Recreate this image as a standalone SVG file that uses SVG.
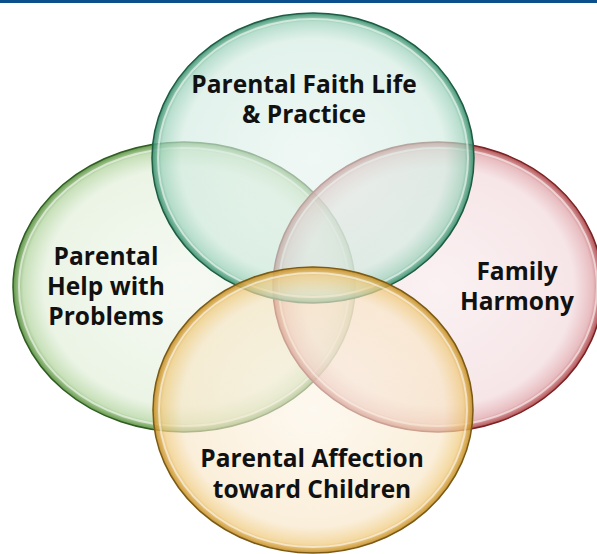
<svg xmlns="http://www.w3.org/2000/svg" width="597" height="554" viewBox="0 0 597 554">
<defs>
<radialGradient id="gTeal" cx="50%" cy="50%" r="50%">
<stop offset="0%" stop-color="#e6f3ee" stop-opacity="0.6"/>
<stop offset="82%" stop-color="#d2ebe1" stop-opacity="0.65"/>
<stop offset="94%" stop-color="#9fd3bd" stop-opacity="0.75"/>
<stop offset="100%" stop-color="#2f8a66" stop-opacity="0.9"/>
</radialGradient>
<radialGradient id="gGreen" cx="50%" cy="50%" r="50%">
<stop offset="0%" stop-color="#f0f6ec" stop-opacity="0.6"/>
<stop offset="82%" stop-color="#e0eed7" stop-opacity="0.65"/>
<stop offset="94%" stop-color="#b5d6a2" stop-opacity="0.75"/>
<stop offset="100%" stop-color="#4f8a34" stop-opacity="0.9"/>
</radialGradient>
<radialGradient id="gRed" cx="50%" cy="50%" r="50%">
<stop offset="0%" stop-color="#f7e8ea" stop-opacity="0.6"/>
<stop offset="82%" stop-color="#f2d8db" stop-opacity="0.65"/>
<stop offset="94%" stop-color="#e0a7ac" stop-opacity="0.75"/>
<stop offset="100%" stop-color="#a83a3c" stop-opacity="0.9"/>
</radialGradient>
<radialGradient id="gOrange" cx="50%" cy="50%" r="50%">
<stop offset="0%" stop-color="#fcf4e6" stop-opacity="0.6"/>
<stop offset="82%" stop-color="#f8e6c6" stop-opacity="0.65"/>
<stop offset="94%" stop-color="#f0cb80" stop-opacity="0.75"/>
<stop offset="100%" stop-color="#c48a1c" stop-opacity="0.9"/>
</radialGradient>
</defs>
<style>
.lbl{font-family:"Open Sans","Liberation Sans",sans-serif;font-weight:700;font-size:24.5px;fill:#111;text-anchor:middle}
.hl{fill:none;stroke:#ffffff;stroke-opacity:0.55;stroke-width:2}
</style>
<rect x="0" y="0" width="597" height="554" fill="#ffffff"/>
<rect x="0" y="0" width="597" height="3" fill="#0b4f8c"/>
<g id="node-green">
<ellipse cx="184" cy="287" rx="171" ry="145" fill="url(#gGreen)" stroke="#2f5d22" stroke-width="1.5"/>
<ellipse cx="184" cy="287" rx="165" ry="139" class="hl"/>
</g>
<g id="node-red">
<ellipse cx="438" cy="287" rx="165" ry="145" fill="url(#gRed)" stroke="#7a2224" stroke-width="1.5"/>
<ellipse cx="438" cy="287" rx="159" ry="139" class="hl"/>
</g>
<g id="node-teal">
<ellipse cx="313" cy="158" rx="161" ry="145" fill="url(#gTeal)" stroke="#1e5c44" stroke-width="1.5"/>
<ellipse cx="313" cy="158" rx="155" ry="139" class="hl"/>
</g>
<g id="node-orange">
<ellipse cx="313" cy="410" rx="160" ry="143" fill="url(#gOrange)" stroke="#7a5a16" stroke-width="1.5"/>
<ellipse cx="313" cy="410" rx="154" ry="137" class="hl"/>
</g>
<g id="connectors"></g>
<g id="labels">
<text class="lbl" x="304" y="93">Parental Faith Life</text>
<text class="lbl" x="304" y="123">&amp; Practice</text>
<text class="lbl" x="106" y="265">Parental</text>
<text class="lbl" x="106" y="295">Help with</text>
<text class="lbl" x="106" y="325">Problems</text>
<text class="lbl" x="517" y="280">Family</text>
<text class="lbl" x="517" y="310">Harmony</text>
<text class="lbl" x="312" y="467">Parental Affection</text>
<text class="lbl" x="312" y="498">toward Children</text>
</g>
</svg>
